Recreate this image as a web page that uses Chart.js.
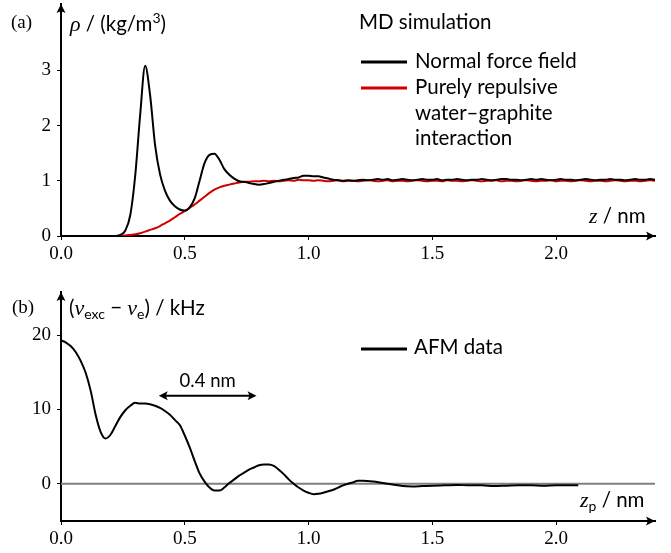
<!DOCTYPE html>
<html><head><meta charset="utf-8">
<script src="https://cdn.jsdelivr.net/npm/chart.js@4/dist/chart.umd.min.js"></script>
<style>
html,body{margin:0;padding:0;background:#fff;}
#wrap{position:relative;width:671px;height:553px;overflow:hidden;background:#fff;}
#ca{position:absolute;left:0;top:0;}
#cb{position:absolute;left:0;top:265px;}
</style></head><body>
<div id="wrap"><canvas id="ca" width="671" height="265" style="width:671px;height:265px"></canvas><canvas id="cb" width="671" height="288" style="width:671px;height:288px"></canvas></div>
<script>
// ---------- DATA ----------
const xTicks = [0, 0.5, 1.0, 1.5, 2.0];
const yTicksA = [0, 1, 2, 3];
const yTicksB = [0, 10, 20];

// MD simulation, z / nm
const zMD = [0, 0.1, 0.2,
 0.22,0.24,0.26,0.28,0.30,0.32,0.34,0.36,0.38,0.40,
 0.42,0.44,0.46,0.48,0.50,0.52,0.54,0.56,0.58,0.60,
 0.62,0.64,0.66,0.68,0.70,0.72,0.74,0.76,0.78,0.80,
 0.82,0.84,0.86,0.88,0.90,0.92,0.94,0.96,0.98,1.00,
 1.02,1.04,1.06,1.08,1.10,1.12,1.14,1.16,1.18,1.20,
 1.22,1.24,1.26,1.28,1.30,1.32,1.34,1.36,1.38,1.40,
 1.42,1.44,1.46,1.48,1.50,1.52,1.54,1.56,1.58,1.60,
 1.62,1.64,1.66,1.68,1.70,1.72,1.74,1.76,1.78,1.80,
 1.82,1.84,1.86,1.88,1.90,1.92,1.94,1.96,1.98,2.00,
 2.02,2.04,2.06,2.08,2.10,2.12,2.14,2.16,2.18,2.20,
 2.22,2.24,2.26,2.28,2.30,2.32,2.34,2.36,2.38,2.40];
// Normal force field, rho
const rhoNormal = [0, 0, 0,
 0.00,0.02,0.10,0.38,1.10,2.20,3.08,2.55,1.65,1.12,
 0.82,0.64,0.54,0.48,0.46,0.52,0.68,1.00,1.32,1.47,
 1.49,1.38,1.21,1.11,1.04,0.99,0.98,0.96,0.94,0.93,
 0.94,0.96,0.98,1.00,1.02,1.03,1.05,1.06,1.09,1.09,
 1.08,1.08,1.06,1.04,1.02,1.01,1.00,1.01,1.00,1.01,
 1.02,1.01,1.02,1.03,1.02,1.03,1.01,1.02,1.03,1.02,
 1.01,1.02,1.03,1.02,1.02,1.03,1.01,1.02,1.02,1.03,
 1.02,1.01,1.02,1.02,1.03,1.02,1.01,1.02,1.03,1.03,
 1.02,1.02,1.01,1.02,1.03,1.02,1.03,1.02,1.01,1.02,
 1.03,1.02,1.02,1.01,1.02,1.03,1.02,1.01,1.02,1.02,
 1.03,1.02,1.02,1.01,1.02,1.03,1.02,1.02,1.03,1.02];
// Purely repulsive water-graphite interaction, rho
const rhoRepulsive = [0, 0, 0,
 0.00,0.005,0.01,0.02,0.03,0.05,0.08,0.11,0.14,0.18,
 0.23,0.28,0.34,0.40,0.45,0.51,0.57,0.64,0.71,0.78,
 0.84,0.88,0.91,0.93,0.95,0.97,0.98,0.98,0.99,0.99,
 1.00,0.99,1.00,0.99,1.00,1.01,1.00,1.02,1.01,1.01,
 1.00,1.01,1.00,0.99,1.00,1.01,0.99,1.00,1.00,0.99,
 1.00,1.01,1.00,0.99,1.00,1.01,0.99,1.00,1.00,0.99,
 1.00,1.01,1.00,0.99,1.00,1.00,0.99,1.01,1.00,1.00,
 0.99,1.00,1.01,1.00,0.99,1.00,1.00,1.01,0.99,1.00,
 1.00,0.99,1.00,1.01,1.00,0.99,1.00,1.00,1.01,0.99,
 1.00,1.00,0.99,1.00,1.01,1.00,0.99,1.00,1.00,0.99,
 1.00,1.01,1.00,0.99,1.00,1.00,0.99,1.00,1.01,1.00];

// AFM data, z_p / nm and (nu_exc - nu_e) / kHz
const zAFM = [0.00,0.02,0.04,0.06,0.08,0.10,0.12,0.14,0.16,0.18,
 0.20,0.22,0.24,0.26,0.28,0.30,0.32,0.34,0.36,0.38,
 0.40,0.42,0.44,0.46,0.48,0.50,0.52,0.54,0.56,0.58,
 0.60,0.62,0.64,0.66,0.68,0.70,0.72,0.74,0.76,0.78,
 0.80,0.82,0.84,0.86,0.88,0.90,0.92,0.94,0.96,0.98,
 1.00,1.02,1.04,1.06,1.08,1.10,1.12,1.14,1.16,1.18,
 1.20,1.22,1.26,1.30,1.34,1.38,1.42,1.46,1.50,1.55,
 1.60,1.65,1.70,1.75,1.80,1.85,1.90,1.95,2.00,2.05,2.09];
const nuAFM = [19.3,19.0,18.5,17.7,16.5,14.9,12.5,9.3,7.0,6.1,
 6.6,7.8,9.0,9.9,10.5,10.9,10.8,10.8,10.7,10.5,
 10.2,9.8,9.3,8.6,7.9,6.5,4.9,3.1,1.4,0.3,
 -0.5,-0.9,-0.9,-0.5,0.1,0.6,1.1,1.5,1.9,2.2,
 2.5,2.6,2.6,2.4,1.9,1.3,0.6,0.0,-0.5,-0.9,
 -1.2,-1.4,-1.35,-1.2,-1.0,-0.8,-0.5,-0.2,0.0,0.2,
 0.4,0.4,0.3,0.1,-0.1,-0.3,-0.35,-0.3,-0.25,-0.2,
 -0.15,-0.2,-0.2,-0.3,-0.25,-0.2,-0.2,-0.25,-0.2,-0.2,-0.2];
const zeroLineX = [0, 2.4];
const zeroLineY = [0, 0];
// "0.4 nm" spacing marker
const markFrom = 0.395, markTo = 0.79, markY = 11.85;

// ---------- STYLE ----------
const SANS = 'Lato';
const SERIF = '"Liberation Serif"';
const RED = '#d00000';
const LF = '20.5px ' + SANS;     // label font
const SUB = '14px ' + SANS;      // sub/superscript
const MATH = 'italic 22px ' + SERIF;

function pts(xs, ys){ return xs.map((x,i)=>({x:x, y:ys[i]})); }

function runs(ctx, x, y, items, align){
  ctx.textBaseline = 'alphabetic'; ctx.textAlign = 'left'; ctx.fillStyle = '#000';
  if (align === 'center'){
    let w = 0;
    for (const it of items){ ctx.font = it[1]; w += ctx.measureText(it[0]).width; }
    x -= w/2;
  }
  for (const it of items){
    ctx.font = it[1];
    ctx.fillText(it[0], x, y + (it[2]||0));
    x += ctx.measureText(it[0]).width;
  }
}
function arrowHead(ctx, tx, ty, dir){
  ctx.save();
  ctx.translate(tx, ty);
  const ang = {up:-Math.PI/2, right:0, left:Math.PI}[dir];
  ctx.rotate(ang);
  ctx.beginPath();
  ctx.moveTo(0,0);
  ctx.lineTo(-9,-4.5);
  ctx.quadraticCurveTo(-6,0,-9,4.5);
  ctx.closePath();
  ctx.fillStyle = '#000';
  ctx.fill();
  ctx.restore();
}
function axisArrows(chart){
  const ctx = chart.ctx, a = chart.chartArea;
  arrowHead(ctx, a.left, a.top, 'up');
  arrowHead(ctx, a.right, a.bottom, 'right');
}

const panelA = {
  id:'panelA',
  afterDraw(chart){
    const ctx = chart.ctx;
    axisArrows(chart);
    runs(ctx, 11, 28, [['(a)', '19px '+SERIF]]);
    runs(ctx, 70, 31, [['ρ',MATH],[' / (kg/m',LF],['3',SUB,-8],[')',LF]]);
    runs(ctx, 359, 29, [['MD simulation',LF]]);
    ctx.lineWidth = 3;
    ctx.strokeStyle = '#000';
    ctx.beginPath(); ctx.moveTo(361,62); ctx.lineTo(407,62); ctx.stroke();
    ctx.strokeStyle = RED;
    ctx.beginPath(); ctx.moveTo(361,88); ctx.lineTo(407,88); ctx.stroke();
    runs(ctx, 415, 68, [['Normal force field',LF]]);
    runs(ctx, 415, 94, [['Purely repulsive',LF]]);
    runs(ctx, 415, 119.5, [['water–graphite',LF]]);
    runs(ctx, 415, 145, [['interaction',LF]]);
    runs(ctx, 589, 223, [['z',MATH],[' / nm',LF]]);
  }
};
const panelB = {
  id:'panelB',
  afterDraw(chart){
    const ctx = chart.ctx;
    axisArrows(chart);
    runs(ctx, 12, 48, [['(b)', '19px '+SERIF]]);
    runs(ctx, 69, 50, [['(',LF],['ν',MATH],['exc',SUB,4],[' − ',LF],['ν',MATH],['e',SUB,4],[') / kHz',LF]]);
    ctx.lineWidth = 3; ctx.strokeStyle = '#000';
    ctx.beginPath(); ctx.moveTo(361,84); ctx.lineTo(407,84); ctx.stroke();
    runs(ctx, 414, 89, [['AFM data',LF]]);
    runs(ctx, 580, 242, [['z',MATH],['p',SUB,4],[' / nm',LF]]);
    // 0.4 nm marker
    const xs = chart.scales.x, ys = chart.scales.y;
    const x1 = xs.getPixelForValue(markFrom), x2 = xs.getPixelForValue(markTo), yy = ys.getPixelForValue(markY);
    ctx.lineWidth = 2; ctx.strokeStyle = '#000';
    ctx.beginPath(); ctx.moveTo(x1+4,yy); ctx.lineTo(x2-4,yy); ctx.stroke();
    arrowHead(ctx, x1, yy, 'left');
    arrowHead(ctx, x2, yy, 'right');
    runs(ctx, (x1+x2)/2, yy-9, [['0.4 nm','18.5px '+SANS]], 'center');
  }
};

function scaleX(h){
  return {
    type:'linear', min:0, max:2.4,
    afterBuildTicks:s=>{ s.ticks = xTicks.map(v=>({value:v})); },
    afterFit:s=>{ s.height = h; s.paddingLeft = 0; s.paddingRight = 0; },
    grid:{drawOnChartArea:false, drawTicks:true, tickLength:4, color:'#000', lineWidth:1},
    border:{display:true, color:'#000', width:2},
    ticks:{font:{family:'Liberation Serif', size:19}, color:'#000', padding:3, maxRotation:0, autoSkip:false,
      callback:v=>Number(v).toFixed(1)}
  };
}
function scaleY(min, max, ticks){
  return {
    type:'linear', min:min, max:max,
    afterBuildTicks:s=>{ s.ticks = ticks.map(v=>({value:v})); },
    afterFit:s=>{ s.width = 61; s.paddingTop = 0; s.paddingBottom = 0; },
    grid:{drawOnChartArea:false, drawTicks:true, tickLength:4, color:'#000', lineWidth:1},
    border:{display:true, color:'#000', width:2},
    ticks:{font:{family:'Liberation Serif', size:19}, color:'#000', padding:6, autoSkip:false,
      callback:v=>String(v)}
  };
}
const common = {
  responsive:false, animation:false, devicePixelRatio:1, events:[],
  plugins:{legend:{display:false}, tooltip:{enabled:false}}
};

new Chart(document.getElementById('ca'), {
  type:'line',
  data:{datasets:[
    {label:'Normal force field', data:pts(zMD, rhoNormal), borderColor:'#000', borderWidth:2, pointRadius:0, cubicInterpolationMode:'monotone'},
    {label:'Purely repulsive water–graphite interaction', data:pts(zMD, rhoRepulsive), borderColor:RED, borderWidth:2, pointRadius:0, cubicInterpolationMode:'monotone'}
  ]},
  options:Object.assign({}, common, {
    layout:{padding:{left:0, right:16, top:4, bottom:0}},
    scales:{x:scaleX(29), y:scaleY(0, 4.2, yTicksA)}
  }),
  plugins:[panelA]
});

new Chart(document.getElementById('cb'), {
  type:'line',
  data:{datasets:[
    {label:'AFM data', data:pts(zAFM, nuAFM), borderColor:'#000', borderWidth:2, pointRadius:0, cubicInterpolationMode:'monotone'},
    {label:'zero', data:pts(zeroLineX, zeroLineY), borderColor:'#808080', borderWidth:2, pointRadius:0}
  ]},
  options:Object.assign({}, common, {
    layout:{padding:{left:0, right:16, top:27, bottom:0}},
    scales:{x:scaleX(32), y:scaleY(-5, 25.8, yTicksB)}
  }),
  plugins:[panelB]
});
</script>
</body></html>
